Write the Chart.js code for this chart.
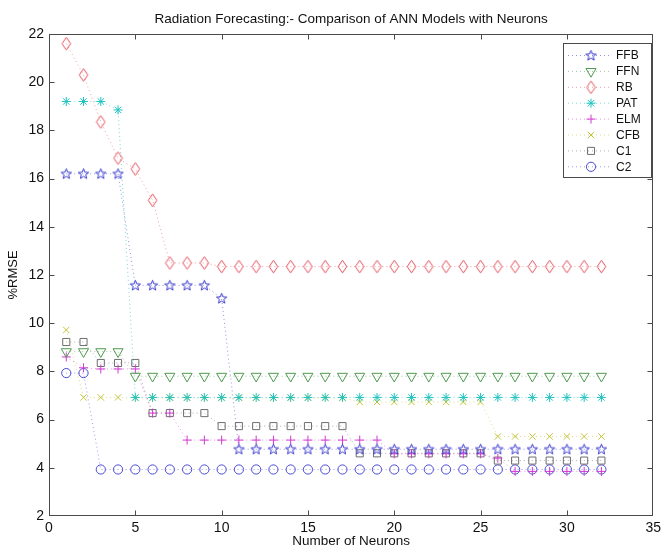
<!DOCTYPE html>
<html><head><meta charset="utf-8">
<script src="https://cdn.jsdelivr.net/npm/chart.js@4.4.0/dist/chart.umd.min.js"></script>
<style>html,body{margin:0;padding:0;background:#fff;} #wrap{width:665px;height:549px;}</style>
</head><body><div id="wrap"><canvas id="c" width="665" height="549"></canvas></div>
<script>
const neurons = [1,2,3,4,5,6,7,8,9,10,11,12,13,14,15,16,17,18,19,20,21,22,23,24,25,26,27,28,29,30,31,32];
const FFB = [16.2,16.2,16.2,16.2,11.57,11.57,11.57,11.57,11.57,11.03,4.77,4.77,4.77,4.77,4.77,4.77,4.77,4.77,4.77,4.77,4.77,4.77,4.77,4.77,4.77,4.77,4.77,4.77,4.77,4.77,4.77,4.77];
const FFN = [8.82,8.82,8.82,8.82,7.8,7.8,7.8,7.8,7.8,7.8,7.8,7.8,7.8,7.8,7.8,7.8,7.8,7.8,7.8,7.8,7.8,7.8,7.8,7.8,7.8,7.8,7.8,7.8,7.8,7.8,7.8,7.8];
const RB  = [21.6,20.3,18.35,16.85,16.4,15.1,12.5,12.5,12.5,12.35,12.35,12.35,12.35,12.35,12.35,12.35,12.35,12.35,12.35,12.35,12.35,12.35,12.35,12.35,12.35,12.35,12.35,12.35,12.35,12.35,12.35,12.35];
const PAT = [19.2,19.2,19.2,18.85,6.92,6.92,6.92,6.92,6.92,6.92,6.92,6.92,6.92,6.92,6.92,6.92,6.92,6.92,6.92,6.92,6.92,6.92,6.92,6.92,6.92,6.92,6.92,6.92,6.92,6.92,6.92,6.92];
const ELM = [8.6,8.15,8.1,8.1,8.1,6.27,6.27,5.15,5.15,5.15,5.15,5.15,5.15,5.15,5.15,5.15,5.15,5.15,5.15,4.58,4.58,4.58,4.58,4.58,4.58,4.4,3.85,3.85,3.85,3.85,3.85,3.85];
const CFB = [9.72,6.92,6.92,6.92,6.9,6.9,6.9,6.9,6.9,6.9,6.9,6.9,6.9,6.9,6.9,6.9,6.9,6.73,6.73,6.73,6.73,6.73,6.73,6.73,6.73,5.3,5.3,5.3,5.3,5.3,5.3,5.3];
const C1  = [9.22,9.22,8.35,8.35,8.35,6.27,6.27,6.27,6.27,5.73,5.73,5.73,5.73,5.73,5.73,5.73,5.73,4.6,4.6,4.6,4.6,4.6,4.6,4.6,4.6,4.3,4.3,4.3,4.3,4.3,4.3,4.3];
const C2  = [7.93,7.93,3.93,3.93,3.93,3.93,3.93,3.93,3.93,3.93,3.93,3.93,3.93,3.93,3.93,3.93,3.93,3.93,3.93,3.93,3.93,3.93,3.93,3.93,3.93,3.93,3.93,3.93,3.93,3.93,3.93,3.93];
const seriesNames = ['FFB','FFN','RB','PAT','ELM','CFB','C1','C2'];
const seriesValues = [FFB, FFN, RB, PAT, ELM, CFB, C1, C2];
const xTicks = [0,5,10,15,20,25,30,35];
const yTicks = [2,4,6,8,10,12,14,16,18,20,22];

function makeStar(color){
  const c = document.createElement('canvas'); c.width = 13; c.height = 13;
  const g = c.getContext('2d'); g.strokeStyle = color; g.lineWidth = 1; g.beginPath();
  for (let i = 0; i < 10; i++) {
    const r = i % 2 === 0 ? 5.4 : 2.3;
    const a = -Math.PI/2 + i*Math.PI/5;
    const px = 6.5 + r*Math.cos(a), py = 6.8 + r*Math.sin(a);
    if (i === 0) g.moveTo(px, py); else g.lineTo(px, py);
  }
  g.closePath(); g.stroke(); return c;
}
function makeDiamond(color){
  const c = document.createElement('canvas'); c.width = 11; c.height = 15;
  const g = c.getContext('2d'); g.strokeStyle = color; g.lineWidth = 1; g.beginPath();
  g.moveTo(5.5,1.2); g.lineTo(9.8,7.5); g.lineTo(5.5,13.8); g.lineTo(1.2,7.5); g.closePath(); g.stroke();
  return c;
}
const colors = ['#3a3ad0','#4f9a4f','#e4505a','#20c2c2','#d23ad2','#c4c43a','#6e6e6e','#4a4ad8'];
const lineColors = ['rgba(58,58,208,0.55)','rgba(79,154,79,0.55)','rgba(228,80,90,0.55)','rgba(32,194,194,0.6)','rgba(210,58,210,0.55)','rgba(196,196,58,0.6)','rgba(110,110,110,0.55)','rgba(74,74,216,0.55)'];
const styles = [
  {pointStyle: makeStar(colors[0]), radius: 6, rotation: 0},
  {pointStyle: 'triangle', radius: 5.8, rotation: 180},
  {pointStyle: makeDiamond(colors[2]), radius: 6, rotation: 0},
  {pointStyle: 'star', radius: 4.5, rotation: 0},
  {pointStyle: 'cross', radius: 4.5, rotation: 0},
  {pointStyle: 'crossRot', radius: 4.5, rotation: 0},
  {pointStyle: 'rect', radius: 5, rotation: 0},
  {pointStyle: 'circle', radius: 4.6, rotation: 0}
];

const datasets = seriesNames.map((name, i) => ({
  label: name,
  data: neurons.map((n, k) => ({x: n, y: seriesValues[i][k]})),
  borderColor: lineColors[i],
  borderWidth: 1,
  borderDash: [1, 3],
  pointStyle: styles[i].pointStyle,
  pointRadius: styles[i].radius,
  pointRotation: styles[i].rotation,
  pointBorderColor: colors[i],
  pointBackgroundColor: 'rgba(0,0,0,0)',
  pointBorderWidth: 1,
  fill: false,
  tension: 0
}));

const FONT = '"Liberation Sans", Arial, sans-serif';

const framePlugin = {
  id: 'frame',
  afterDatasetsDraw(chart) {
    const {ctx, chartArea: a, scales} = chart;
    ctx.save();
    ctx.strokeStyle = '#4a4a4a'; ctx.lineWidth = 1;
    const L = Math.round(a.left)+0.5, R = Math.round(a.right)-0.5, T = Math.round(a.top)+0.5, B = Math.round(a.bottom)-0.5;
    ctx.strokeRect(L, T, R-L, B-T);
    const tl = 5;
    ctx.beginPath();
    xTicks.slice(1, -1).forEach(v => {
      const x = Math.round(scales.x.getPixelForValue(v)) + 0.5;
      ctx.moveTo(x, B); ctx.lineTo(x, B - tl);
      ctx.moveTo(x, T); ctx.lineTo(x, T + tl);
    });
    yTicks.slice(1, -1).forEach(v => {
      const y = Math.round(scales.y.getPixelForValue(v)) + 0.5;
      ctx.moveTo(L, y); ctx.lineTo(L + tl, y);
      ctx.moveTo(R, y); ctx.lineTo(R - tl, y);
    });
    ctx.stroke();

    // legend box
    const bx = 563.5, by = 43.5, bw = 88, bh = 134;
    ctx.fillStyle = '#fff'; ctx.fillRect(bx, by, bw, bh);
    ctx.strokeStyle = '#4a4a4a'; ctx.strokeRect(bx, by, bw, bh);
    ctx.font = '12px ' + FONT;
    ctx.textBaseline = 'middle'; ctx.textAlign = 'left';
    chart.data.datasets.forEach((ds, i) => {
      const y = 55.5 + i * 15.9;
      ctx.save();
      ctx.strokeStyle = ds.borderColor; ctx.setLineDash([1, 3]); ctx.lineWidth = 1;
      ctx.beginPath(); ctx.moveTo(568, y); ctx.lineTo(612, y); ctx.stroke();
      ctx.restore();
      ctx.save();
      ctx.strokeStyle = ds.pointBorderColor; ctx.fillStyle = 'rgba(0,0,0,0)'; ctx.lineWidth = 1;
      if (Chart.helpers && Chart.helpers.drawPoint) {
        Chart.helpers.drawPoint(ctx, {pointStyle: ds.pointStyle, rotation: ds.pointRotation, radius: ds.pointRadius, borderWidth: 1}, 591, y);
      }
      ctx.restore();
      ctx.fillStyle = '#111';
      ctx.fillText(ds.label, 616, y + 0.5);
    });
    ctx.restore();
  }
};

new Chart(document.getElementById('c'), {
  type: 'line',
  data: {datasets},
  options: {
    responsive: false,
    animation: false,
    layout: {padding: {left: 0, right: 8, top: 0, bottom: 0}},
    plugins: {
      legend: {display: false},
      tooltip: {enabled: false},
      title: {
        display: true, fullSize: false,
        text: 'Radiation Forecasting:- Comparison of ANN Models with Neurons',
        color: '#111',
        font: {family: FONT, size: 13.5, weight: 'normal'},
        padding: {top: 11, bottom: 6.8}
      }
    },
    scales: {
      x: {
        type: 'linear', min: 0, max: 35,
        afterBuildTicks: s => { s.ticks = xTicks.map(v => ({value: v})); },
        ticks: {color: '#111', font: {family: FONT, size: 14}, padding: 4, maxRotation: 0},
        grid: {display: false, drawTicks: false},
        border: {display: false},
        title: {display: true, text: 'Number of Neurons', color: '#111', font: {family: FONT, size: 13.5}, padding: {top: 0, bottom: 0}},
        afterFit: s => { s.height = 33; }
      },
      y: {
        type: 'linear', min: 2, max: 22,
        afterBuildTicks: s => { s.ticks = yTicks.map(v => ({value: v})); },
        ticks: {color: '#111', font: {family: FONT, size: 14}, padding: 5},
        grid: {display: false, drawTicks: false},
        border: {display: false},
        title: {display: true, text: '%RMSE', color: '#111', font: {family: FONT, size: 13}, padding: {top: 6, bottom: 0}},
        afterFit: s => { s.width = 49; }
      }
    }
  },
  plugins: [framePlugin]
});
</script>
</body></html>
